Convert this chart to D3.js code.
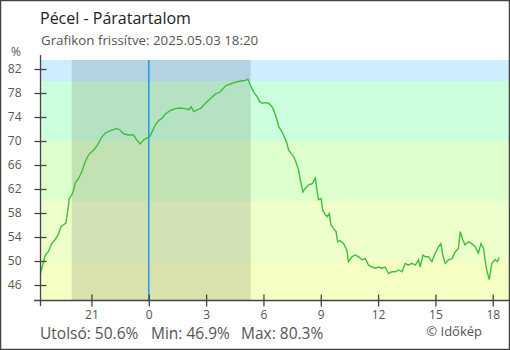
<!DOCTYPE html>
<html>
<head>
<meta charset="utf-8">
<script src="https://cdn.jsdelivr.net/npm/d3@7"></script>
<style>
  body { margin: 0; background: #fff; }
  svg text { font-family: "Open Sans", sans-serif; }
</style>
</head>
<body>
<div id="chart"></div>
<script>
// readings from 18:20 on 05.02 to 18:20 on 05.03
var times = ["18:20","18:30","18:35","18:45","18:55","19:05","19:15","19:25","19:40","19:43","19:48","19:50","19:58","20:04","20:09","20:20","20:30","20:40","20:51","21:01","21:12","21:22","21:33","21:43","21:54","22:04","22:20","22:30","22:41","22:56","23:12","23:22","23:33","23:44","23:55",
  "00:03","00:11","00:21","00:31","00:42","00:52","01:08","01:24","01:39","01:55","02:05","02:13","02:21","02:32","02:42","02:58","03:14","03:29","03:45","04:01","04:16","04:32","04:48","05:03","05:11","05:19","05:29","05:40","05:48","05:56","06:06","06:16","06:27","06:34","06:41","06:48","06:55",
  "07:03","07:12","07:19","07:27","07:35","07:42","07:50","07:56","08:04","08:11","08:22","08:33","08:43","08:48","08:53","09:01","09:06","09:14","09:21","09:27","09:32","09:40","09:48","09:53","10:01","10:12","10:22","10:27","10:38","10:48","10:59","11:09","11:20","11:30","11:41","11:51",
  "12:01","12:12","12:22","12:33","12:43","12:54","13:04","13:15","13:25","13:35","13:46","13:57","14:07","14:12","14:21","14:28","14:38","14:49","14:59","15:10","15:17","15:23","15:31","15:41","15:52","16:02","16:12","16:18","16:26","16:33","16:44","16:54","17:05","17:15","17:23","17:31","17:36","17:41","17:49","17:57","18:07","18:15","18:20"];
var humidity = [48.0,49.9,51.0,51.6,52.9,53.5,54.3,55.8,56.3,57.4,59.3,60.4,61.0,61.8,63.0,63.8,64.9,66.5,67.7,68.2,68.8,69.6,70.7,71.3,71.6,71.8,72.1,71.8,71.2,71.0,71.0,70.2,69.5,70.2,70.5,
  70.7,71.6,72.7,73.4,73.8,74.5,75.1,75.4,75.5,75.4,75.2,75.7,74.9,75.2,75.4,76.3,77.1,77.8,78.2,79.2,79.5,79.8,80.0,80.1,80.3,79.3,78.2,77.4,76.6,76.3,76.4,76.3,75.7,74.9,73.8,72.4,71.8,
  71.0,69.9,68.5,67.9,67.4,66.5,65.2,63.5,61.5,62.1,62.7,62.9,63.8,61.8,60.2,60.4,58.5,57.7,57.4,57.9,56.0,55.4,54.9,53.2,53.4,52.9,51.8,49.9,50.7,51.0,50.7,50.2,50.4,49.3,49.0,48.8,
  49.0,48.8,49.0,47.9,48.2,48.2,48.5,48.2,49.6,49.3,49.6,49.3,50.2,49.0,51.0,50.7,50.7,49.9,51.3,52.4,52.9,51.0,49.6,50.2,50.4,51.5,52.1,54.9,53.5,52.7,53.2,52.9,52.4,51.3,52.9,52.1,50.2,48.5,46.9,49.6,50.2,49.9,50.6];

var yTicks = [46, 50, 54, 58, 62, 66, 70, 74, 78, 82];
var bandLimits = [43.5, 50, 60, 70, 80, 83.5];
var bandColors = ["#f5ffc4", "#eeffcc", "#ddffcc", "#ccffdd", "#cceeff"];
var sunset = "19:58", sunrise = "05:20";
var title = "Pécel - Páratartalom";
var subtitle = "Grafikon frissítve: 2025.05.03 18:20";
var stats = ["Utolsó: 50.6%", "Min: 46.9%", "Max: 80.3%"];

var W = 510, H = 350;
var parse = d3.timeParse("%Y-%m-%d %H:%M");
var day = 2, prev = -1;
var data = times.map(function(t, i) {
  var hh = +t.slice(0, 2);
  if (hh < prev) day = 3;
  prev = hh;
  return {date: parse("2025-05-0" + day + " " + t), value: humidity[i]};
});

var x = d3.scaleTime()
  .domain([parse("2025-05-02 18:20"), parse("2025-05-03 18:51")])
  .range([40.5, 509]);
var y = d3.scaleLinear().domain([43.5, 83.5]).range([300, 60]);

var svg = d3.select("#chart").append("svg")
  .attr("width", W).attr("height", H);

// colour bands
svg.selectAll("rect.band")
  .data(bandColors)
  .enter().append("rect")
  .attr("class", "band")
  .attr("x", 41)
  .attr("width", 468)
  .attr("y", function(d, i) { return y(bandLimits[i + 1]); })
  .attr("height", function(d, i) { return y(bandLimits[i]) - y(bandLimits[i + 1]); })
  .attr("fill", function(d) { return d; });

// night
var n0 = x(parse("2025-05-02 " + sunset)), n1 = x(parse("2025-05-03 " + sunrise));
svg.append("rect")
  .attr("x", n0).attr("width", n1 - n0)
  .attr("y", 60).attr("height", 240)
  .attr("fill", "#000").attr("fill-opacity", 0.115);

// midnight
var mid = x(parse("2025-05-03 00:00"));
svg.append("line")
  .attr("x1", mid).attr("x2", mid)
  .attr("y1", 60).attr("y2", 300)
  .attr("stroke", "#2299ee").attr("stroke-width", 1.5);

// humidity line
var line = d3.line()
  .x(function(d) { return x(d.date); })
  .y(function(d) { return y(d.value); });
svg.append("path")
  .datum(data)
  .attr("d", line)
  .attr("fill", "none")
  .attr("stroke", "#3cc03c")
  .attr("stroke-width", 1.4);

// y axis
var yAxis = svg.append("g")
  .attr("transform", "translate(40.5,0)")
  .call(d3.axisLeft(y).tickValues(yTicks).tickSize(6).tickPadding(13));
yAxis.select(".domain").remove();
yAxis.selectAll(".tick line").attr("x1", -6).attr("x2", 6).attr("stroke", "#444").attr("stroke-width", 1.3);
yAxis.selectAll(".tick text").attr("fill", "#555").style("font-size", "12px").attr("font-family", null);
yAxis.append("line").attr("y1", 55).attr("y2", 306).attr("stroke", "#444").attr("stroke-width", 1.3);

// x axis
var xAxis = svg.append("g")
  .attr("transform", "translate(0,300.5)")
  .call(d3.axisBottom(x).ticks(d3.timeHour.every(3)).tickFormat(d3.timeFormat("%-H")).tickSize(6).tickPadding(4));
xAxis.select(".domain").remove();
xAxis.selectAll(".tick line").attr("y1", -6).attr("y2", 6).attr("stroke", "#444").attr("stroke-width", 1.3);
xAxis.selectAll(".tick text").attr("fill", "#555").style("font-size", "12px").attr("font-family", null);
xAxis.append("line").attr("x1", 34).attr("x2", 509).attr("stroke", "#444").attr("stroke-width", 1.3);

svg.append("text").attr("x", 16).attr("y", 56).attr("text-anchor", "middle")
  .attr("fill", "#555").style("font-size", "12px").text("%");

svg.append("text").attr("x", 40).attr("y", 24)
  .attr("fill", "#222").style("font-size", "16px").text(title);
svg.append("text").attr("x", 41).attr("y", 45)
  .attr("fill", "#555").style("font-size", "13.3px").text(subtitle);

svg.selectAll("text.stat")
  .data(stats)
  .enter().append("text")
  .attr("class", "stat")
  .attr("x", function(d, i) { return [40, 151, 241][i]; })
  .attr("y", 339)
  .attr("fill", "#555").style("font-size", "15.5px")
  .text(function(d) { return d; });

svg.append("text").attr("x", 482).attr("y", 336).attr("text-anchor", "end")
  .attr("fill", "#555").style("font-size", "13px").text("© Időkép");

// frame
svg.append("rect")
  .attr("x", 0.5).attr("y", 0.5).attr("width", W - 1).attr("height", H - 1)
  .attr("fill", "none").attr("stroke", "#444").attr("stroke-width", 1.5);
</script>
</body>
</html>
